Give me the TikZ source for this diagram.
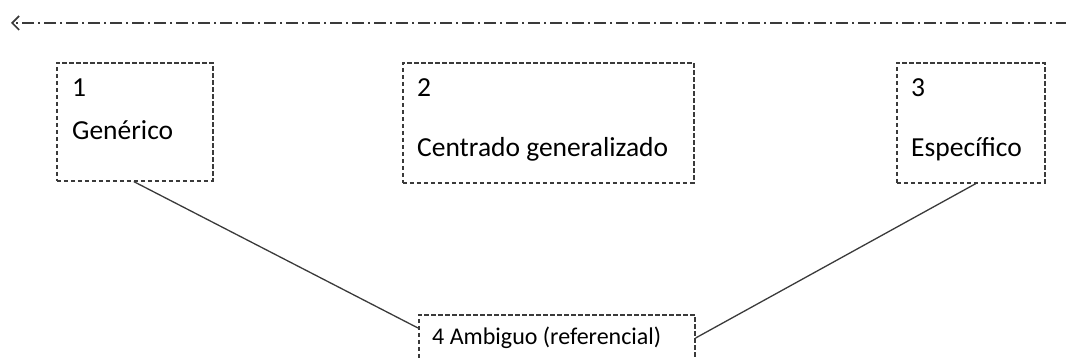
\documentclass[tikz,border=0pt]{standalone}
\usepackage{fontspec}
\setmainfont{Carlito}
\usetikzlibrary{arrows.meta}
\definecolor{linegray}{HTML}{3A3A3A}
\tikzset{
  box/.style={draw=linegray, line width=1.6pt, dash pattern=on 4.5pt off 2.5pt, inner sep=0pt, anchor=north west},
  lbl/.style={anchor=base west, inner sep=0pt, font=\fontsize{27.5}{32}\selectfont},
  lblsmall/.style={anchor=base west, inner sep=0pt, font=\fontsize{24}{28}\selectfont},
  conn/.style={draw=linegray, line width=1.3pt},
  axis/.style={draw=linegray, line width=1.8pt, dash pattern=on 12pt off 4pt on 2pt off 4pt, -{Straight Barb[length=7pt,width=14pt,line width=1.6pt]}}
}
\begin{document}
\begin{tikzpicture}[x=1pt,y=-1pt]
\useasboundingbox (0,0) rectangle (1066,358);
\clip (0,0) rectangle (1066,358);
% top axis
\coordinate (axR) at (1068,23);
\coordinate (axL) at (11,23);
\draw[axis] (axR) -- (axL);
% boxes
\node[box, minimum width=156pt, minimum height=118pt] (b1) at (56,62) {};
\node[box, minimum width=291pt, minimum height=120pt] (b2) at (402,62) {};
\node[box, minimum width=148pt, minimum height=120pt] (b3) at (896,62) {};
\node[box, minimum width=276pt, minimum height=60pt] (b4) at (418,314) {};
% labels
\node[lbl] (n1) at (72,97) {1};
\node[lbl] (t1) at (72,140) {Genérico};
\node[lbl] (n2) at (417,97) {2};
\node[lbl] (t2) at (417,157) {Centrado generalizado};
\node[lbl] (n3) at (911,97) {3};
\node[lbl] (t3) at (911,157) {Específico};
\node[lblsmall] (t4) at (432,344) {4 Ambiguo (referencial)};
% connectors
\draw[conn] ([xshift=-1pt]b1.south) -- ([yshift=-14pt]b4.north west);
\draw[conn] ([xshift=5pt]b3.south) -- ([yshift=-24pt]b4.north east);
\end{tikzpicture}
\end{document}
